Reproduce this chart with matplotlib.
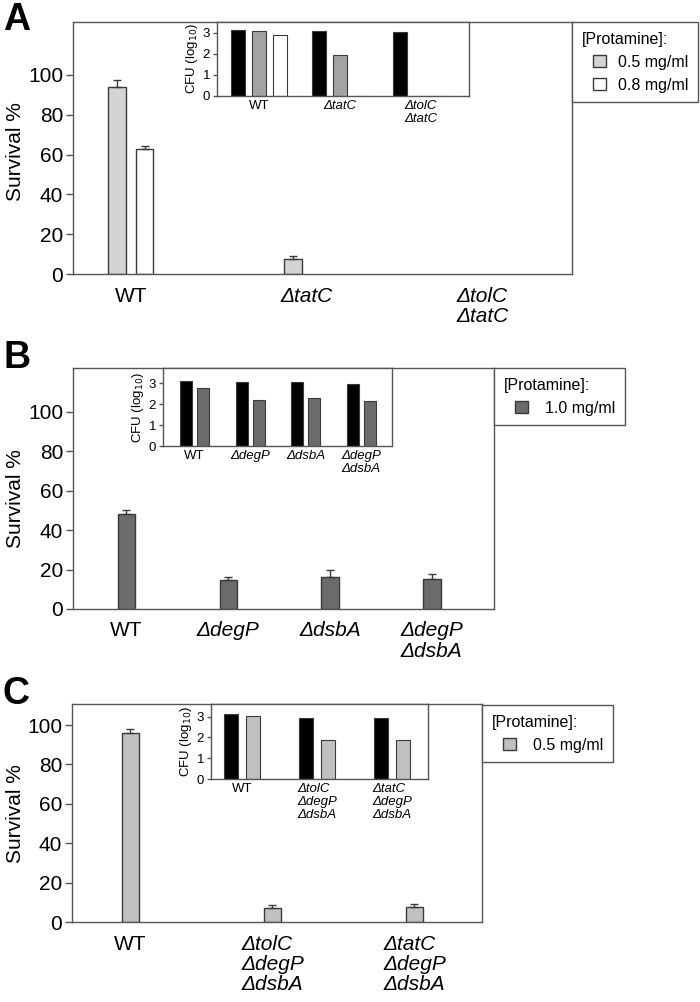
import matplotlib
matplotlib.use("Agg")
import matplotlib.pyplot as plt
from matplotlib.patches import Patch, Rectangle
from matplotlib.legend_handler import HandlerPatch
import numpy as np

plt.rcParams['font.family'] = ['Liberation Sans', 'DejaVu Sans']

W, H = 700, 1002

# ---------------- Data ----------------
# Panel A
a_cats = ["WT", "ΔtatC", "ΔtolC\nΔtatC"]
a_surv_05 = [94, 7.5, 0]
a_err_05 = [3.5, 1.7, 0]
a_surv_08 = [63, 0, 0]
a_err_08 = [1.5, 0, 0]
a_in_cats = ["WT", "ΔtatC", "ΔtolC\nΔtatC"]
a_in_ctrl = [3.13, 3.05, 3.03]
a_in_05 = [3.08, 1.94, 0]
a_in_08 = [2.90, 0, 0]
a_legend = ["0.5 mg/ml", "0.8 mg/ml"]

# Panel B
b_cats = ["WT", "ΔdegP", "ΔdsbA", "ΔdegP\nΔdsbA"]
b_surv = [48.2, 14.6, 16.2, 15.2]
b_err = [1.9, 1.6, 3.6, 2.4]
b_in_cats = ["WT", "ΔdegP", "ΔdsbA", "ΔdegP\nΔdsbA"]
b_in_ctrl = [3.11, 3.05, 3.08, 2.98]
b_in_10 = [2.78, 2.19, 2.29, 2.16]
b_legend = ["1.0 mg/ml"]

# Panel C
c_cats = ["WT", "ΔtolC\nΔdegP\nΔdsbA", "ΔtatC\nΔdegP\nΔdsbA"]
c_surv = [96.1, 7.3, 7.8]
c_err = [2.0, 1.2, 1.5]
c_in_cats = ["WT", "ΔtolC\nΔdegP\nΔdsbA", "ΔtatC\nΔdegP\nΔdsbA"]
c_in_ctrl = [3.11, 2.95, 2.95]
c_in_05 = [3.04, 1.87, 1.90]
c_legend = ["0.5 mg/ml"]

# ---------------- Style ----------------
EDGE = "#3a3a3a"
SPINE = "#555555"
A_MAIN_GRAY = "#d4d4d4"
A_IN_GRAY = "#a3a3a3"
B_GRAY = "#6b6b6b"
C_GRAY = "#c0c0c0"

TICK_FS = 15
CAT_FS = 15
YLAB_FS = 15
IN_TICK_FS = 9.5
IN_CAT_FS = 9.5
LEG_FS = 11.5
LETTER_FS = 27


def rect(l, t, r, b):
    return [l / W, 1 - b / H, (r - l) / W, (b - t) / H]


def style_axes(ax, ticksize, ticklen):
    for s in ax.spines.values():
        s.set_color(SPINE)
        s.set_linewidth(1.0)
    ax.tick_params(axis='y', direction='out', length=ticklen, width=1,
                   color=SPINE, labelsize=ticksize, pad=2)
    ax.tick_params(axis='x', length=0, pad=6)


def italic_labels(ax, labels, size, pad):
    ax.set_xticklabels(labels)
    for lab, txt in zip(ax.get_xticklabels(), labels):
        lab.set_fontsize(size)
        lab.set_multialignment('left')
        lab.set_linespacing(1.1)
        if txt != "WT":
            lab.set_fontstyle('italic')
    ax.tick_params(axis='x', pad=pad)


def survival_label(ax, l_px, t_px, r_px, b_px, center_y_px):
    ax.set_ylabel("Survival %", fontsize=YLAB_FS, va='center', ha='center')
    xa = (16 - l_px) / (r_px - l_px)
    ya = (b_px - center_y_px) / (b_px - t_px)
    ax.yaxis.set_label_coords(xa, ya)


def indented_square(legend, orig_handle, xdescent, ydescent, width, height, fontsize):
    side = height
    return Rectangle((-xdescent + width - side, -ydescent), side, side)


def add_legend(ax, handles, left_px, top_px, textpad):
    leg = ax.legend(handles=handles, title="[Protamine]:", loc="upper left",
                    bbox_to_anchor=(left_px / W, 1 - top_px / H),
                    bbox_transform=fig.transFigure,
                    fontsize=LEG_FS, title_fontsize=LEG_FS, fancybox=False,
                    edgecolor=SPINE, framealpha=1, borderpad=0.6,
                    handlelength=1.5, handleheight=0.85, handletextpad=textpad,
                    labelspacing=0.5, alignment='left', borderaxespad=0,
                    handler_map={Patch: HandlerPatch(patch_func=indented_square)})
    leg.get_frame().set_linewidth(1.0)
    return leg


fig = plt.figure(figsize=(W / 100, H / 100), dpi=100)

eb_kw = dict(ecolor=EDGE, elinewidth=1, capsize=3, capthick=1)

# ================= Panel A =================
ax = fig.add_axes(rect(73, 22, 572, 274))
x = np.arange(len(a_cats))
bw = 0.10
off = 0.078
mask05 = np.array(a_surv_05) > 0
mask08 = np.array(a_surv_08) > 0
ax.bar(x[mask05] - off, np.array(a_surv_05)[mask05], bw, color=A_MAIN_GRAY,
       edgecolor=EDGE, linewidth=1,
       yerr=[np.zeros(mask05.sum()), np.array(a_err_05)[mask05]], error_kw=eb_kw)
ax.bar(x[mask08] + off, np.array(a_surv_08)[mask08], bw, color="white",
       edgecolor=EDGE, linewidth=1,
       yerr=[np.zeros(mask08.sum()), np.array(a_err_08)[mask08]], error_kw=eb_kw)
ax.set_xlim(-0.33, 2.51)
ax.set_ylim(0, 126.6)
ax.set_yticks([0, 20, 40, 60, 80, 100])
ax.set_xticks(x)
style_axes(ax, TICK_FS, 5)
italic_labels(ax, a_cats, CAT_FS, 9)
survival_label(ax, 73, 22, 572, 274, 152)
add_legend(ax, [Patch(facecolor=A_MAIN_GRAY, edgecolor=EDGE, label=a_legend[0]),
                Patch(facecolor="white", edgecolor=EDGE, label=a_legend[1])],
           572, 22, 0.8)

# inset A
ai = fig.add_axes(rect(217, 22, 469, 95.7))
xi = np.arange(len(a_in_cats))
ibw = 0.17
ioff = 0.26
ai.bar(xi - ioff, a_in_ctrl, ibw, color="black", edgecolor=EDGE, linewidth=0.8)
ai.bar(xi, a_in_05, ibw, color=A_IN_GRAY, edgecolor=EDGE, linewidth=0.8)
ai.bar(xi + ioff, a_in_08, ibw, color="white", edgecolor=EDGE, linewidth=0.8)
ai.set_xlim(-0.52, 2.59)
ai.set_ylim(0, 3.5)
ai.set_yticks([0, 1, 2, 3])
ai.set_xticks(xi)
style_axes(ai, IN_TICK_FS, 3)
italic_labels(ai, a_in_cats, IN_CAT_FS, 3)
ai.set_ylabel("CFU (log$_{10}$)", fontsize=IN_TICK_FS, labelpad=2)

fig.text(3 / W, 1 - 30 / H, "A", fontsize=LETTER_FS, fontweight='bold', ha='left', va='baseline')

# ================= Panel B =================
bx = fig.add_axes(rect(73, 368, 494, 609))
x = np.arange(len(b_cats))
bx.bar(x, b_surv, 0.17, color=B_GRAY, edgecolor=EDGE, linewidth=1,
       yerr=[np.zeros(len(b_err)), b_err], error_kw=eb_kw)
bx.set_xlim(-0.525, 3.61)
bx.set_ylim(0, 122.3)
bx.set_yticks([0, 20, 40, 60, 80, 100])
bx.set_xticks(x)
style_axes(bx, TICK_FS, 5)
italic_labels(bx, b_cats, CAT_FS, 9)
survival_label(bx, 73, 368, 494, 609, 499)
add_legend(bx, [Patch(facecolor=B_GRAY, edgecolor=EDGE, label=b_legend[0])],
           494, 368, 1.1)

bi = fig.add_axes(rect(163, 368, 392, 446.3))
xi = np.arange(len(b_in_cats))
bi.bar(xi - 0.153, b_in_ctrl, 0.22, color="black", edgecolor=EDGE, linewidth=0.8)
bi.bar(xi + 0.153, b_in_10, 0.22, color=B_GRAY, edgecolor=EDGE, linewidth=0.8)
bi.set_xlim(-0.57, 3.55)
bi.set_ylim(0, 3.73)
bi.set_yticks([0, 1, 2, 3])
bi.set_xticks(xi)
style_axes(bi, IN_TICK_FS, 3)
italic_labels(bi, b_in_cats, IN_CAT_FS, 3)
bi.set_ylabel("CFU (log$_{10}$)", fontsize=IN_TICK_FS, labelpad=2)

fig.text(3 / W, 1 - 368 / H, "B", fontsize=LETTER_FS, fontweight='bold', ha='left', va='baseline')

# ================= Panel C =================
cx = fig.add_axes(rect(72, 704, 482, 922))
x = np.arange(len(c_cats))
cx.bar(x, c_surv, 0.12, color=C_GRAY, edgecolor=EDGE, linewidth=1,
       yerr=[np.zeros(len(c_err)), c_err], error_kw=eb_kw)
cx.set_xlim(-0.41, 2.475)
cx.set_ylim(0, 110.7)
cx.set_yticks([0, 20, 40, 60, 80, 100])
cx.set_xticks(x)
style_axes(cx, TICK_FS, 5)
italic_labels(cx, c_cats, CAT_FS, 9)
survival_label(cx, 72, 704, 482, 922, 814)
add_legend(cx, [Patch(facecolor=C_GRAY, edgecolor=EDGE, label=c_legend[0])],
           482, 705, 1.1)

ci = fig.add_axes(rect(211, 704, 428, 779.3))
xi = np.arange(len(c_in_cats))
ci.bar(xi - 0.147, c_in_ctrl, 0.187, color="black", edgecolor=EDGE, linewidth=0.8)
ci.bar(xi + 0.147, c_in_05, 0.187, color=C_GRAY, edgecolor=EDGE, linewidth=0.8)
ci.set_xlim(-0.41, 2.48)
ci.set_ylim(0, 3.6)
ci.set_yticks([0, 1, 2, 3])
ci.set_xticks(xi)
style_axes(ci, IN_TICK_FS, 3)
italic_labels(ci, c_in_cats, IN_CAT_FS, 3)
ci.set_ylabel("CFU (log$_{10}$)", fontsize=IN_TICK_FS, labelpad=2)

fig.text(3 / W, 1 - 704 / H, "C", fontsize=LETTER_FS, fontweight='bold', ha='left', va='baseline')

fig.savefig("out.png", dpi=100)
